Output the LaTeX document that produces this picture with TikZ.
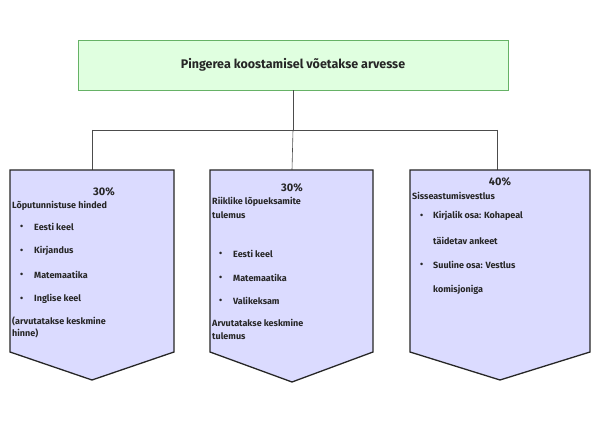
\documentclass[tikz,border=0pt]{standalone}
\usepackage{fontspec}
\setmainfont{Fira Sans}
\begin{document}
\begin{tikzpicture}[x=1pt,y=-1pt,
  conn/.style={draw=black!70,line width=0.6pt},
  arrowbox/.style={draw=black!85,line width=1.3pt,fill=blue!14,line join=miter},
  t/.style={anchor=west,inner sep=0pt,font=\fontsize{9}{10}\selectfont\bfseries,text=black!85},
  pct/.style={anchor=center,inner sep=0pt,font=\fontsize{11}{12}\selectfont\bfseries,text=black!85}]
\useasboundingbox (0,0) rectangle (600,438);
\node[draw=black!50!green!60,line width=0.8pt,fill=green!12,minimum width=430pt,minimum height=50pt,font=\fontsize{12.5}{14}\selectfont\bfseries,text=black!85] (top) at (293,65) {Pingerea koostamisel võetakse arvesse};
\coordinate (j) at (293,130);
\coordinate (l) at (92,130);
\coordinate (r) at (497,130);
\coordinate (b1) at (92,170);
\coordinate (b2) at (292,170);
\coordinate (b3) at (497,170);
\draw[conn] (top.south) -- (j);
\draw[conn] (l) -- (r);
\draw[conn] (l) -- (b1);
\draw[conn] (j) -- (b2);
\draw[conn] (r) -- (b3);
\draw[arrowbox] (10,170) -- (174,170) -- (174,352) -- (92,380) -- (10,352) -- cycle;
\draw[arrowbox] (210,170) -- (373,170) -- (373,352) -- (292,382) -- (210,352) -- cycle;
\draw[arrowbox] (410,170) -- (590,170) -- (590,352) -- (500,380) -- (410,352) -- cycle;
% box 1
\node[pct] (p1) at (104,192) {30\%};
\node[t] (h1) at (12,206) {Lõputunnistuse hinded};
\foreach \y/\s [count=\i] in {227/Eesti keel,251/Kirjandus,275/Matemaatika,299/Inglise keel}{
  \node[t] (a\i) at (20,\y) {•}; \node[t] (at\i) at (34,\y) {\s};}
\node[t] (n1) at (12,321) {(arvutatakse keskmine};
\node[t] (n2) at (12,333) {hinne)};
% box 2
\node[pct] (p2) at (292,188) {30\%};
\node[t] (h2) at (212,202) {Riiklike lõpueksamite};
\node[t] (h2b) at (212,215) {tulemus};
\foreach \y/\s [count=\i] in {254/Eesti keel,278/Matemaatika,301/Valikeksam}{
  \node[t] (c\i) at (219,\y) {•}; \node[t] (ct\i) at (233,\y) {\s};}
\node[t] (m1) at (212,323) {Arvutatakse keskmine};
\node[t] (m2) at (212,336) {tulemus};
% box 3
\node[pct] (p3) at (500,182) {40\%};
\node[t] (h3) at (412,196) {Sisseastumisvestlus};
\node[t] (d1) at (420,216) {•}; \node[t] (dt1) at (433,216) {Kirjalik osa: Kohapeal};
\node[t] (dt1b) at (433,241) {täidetav ankeet};
\node[t] (d2) at (420,265) {•}; \node[t] (dt2) at (433,265) {Suuline osa: Vestlus};
\node[t] (dt2b) at (433,290) {komisjoniga};
\end{tikzpicture}
\end{document}
